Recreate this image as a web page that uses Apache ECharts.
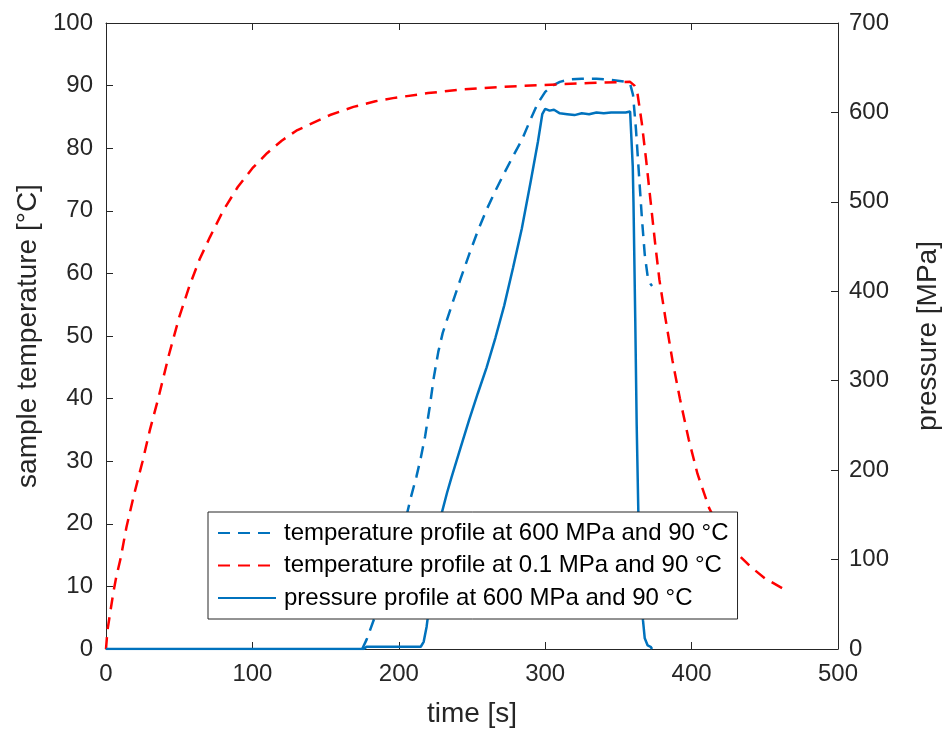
<!DOCTYPE html>
<html><head><meta charset="utf-8">
<script src="https://cdn.jsdelivr.net/npm/echarts@6/dist/echarts.min.js"></script>
<style>html,body{margin:0;padding:0;background:#fff}#c{width:942px;height:731px}</style>
</head><body><div id="c"></div>
<script>
// ---- data ----
const seriesNames = [
  'temperature profile at 600 MPa and 90 °C',
  'temperature profile at 0.1 MPa and 90 °C',
  'pressure profile at 600 MPa and 90 °C'
];
const xTitle = 'time [s]';
const yLeftTitle = 'sample temperature [°C]';
const yRightTitle = 'pressure [MPa]';

// temperature at 600 MPa (left axis)
const hpTime = [175,178,185,193,200,205,208,212,215,218,221,224,227,230,236,242,248,254,260,266,272,278,284,290,295,300,305,310,317,325,335,345,355,358,360,362,364,366,368,370,372,373];
const hpTemp = [0,1.5,6,11,17,21,24,27.5,30.5,34,38.5,43.5,47.5,50.5,54.8,59,63,66.8,70.2,73.2,76,78.7,81.3,84.6,87.2,89,90,90.6,91,91.1,91.1,90.9,90.6,90.3,88.5,83,76,69,63,59.5,58.3,58];

// temperature at 0.1 MPa (left axis)
const lpTime = [0,1,3,5,7,10,14,19,25,30,36,43,50,57,64,71,80,90,100,110,120,130,141,153,169,184,196,220,244,270,298,330,358,361,363,366,369,372,375,378,382,387,392,398,404,412,420,431,440,450,462];
const lpTemp = [0,3,6,9,11.5,14.5,19.5,24.5,30,35,40.3,47,53,58,62.3,65.8,70,73.8,76.8,79.2,81.2,82.8,84,85.3,86.6,87.5,88,88.8,89.4,89.8,90.1,90.4,90.6,90,88.8,84,78,71.5,65,59,53,46,40,33.5,28,22.5,18.8,15.3,13.2,11.3,9.7];

// pressure at 600 MPa (right axis)
const pTime = [0,176,178,195,215,217,219,221,223,226,229,233,236,242,248,254,260,266,272,278,284,290,295,298,300,303,306,310,315,320,325,330,335,340,345,350,355,358,359,359.8,360.3,361.5,362.5,364,365.5,366.8,368,370,372,373];
const pVal  = [0,0,2.5,2.5,2.5,8,25,50,80,120,150,175,192,224,256,286,315,348,384,426,470,522,567,598,604,602,603,599,598,597,599,598,600,599,600,600,600,601,600,540,500,370,250,120,70,32,12,4,2.5,0];

const xTicks = [0,100,200,300,400,500];
const yLeftTicks = [0,10,20,30,40,50,60,70,80,90,100];
const yRightTicks = [0,100,200,300,400,500,600,700];

// ---- chart ----
const zip = (a,b) => a.map((v,i)=>[v,b[i]]);
const FONT = 'Liberation Sans, Arial, Helvetica, sans-serif';
const AX = '#262626';
const BLUE = '#0072BD', RED = '#FF0000';

const chart = echarts.init(document.getElementById('c'), null, {renderer:'canvas'});
const axisCommon = {
  axisLine:{show:true, onZero:false, lineStyle:{color:AX, width:1}},
  axisTick:{show:true, inside:true, length:7, lineStyle:{color:AX, width:1}},
  splitLine:{show:false},
  axisLabel:{color:AX, fontSize:24, fontFamily:FONT},
  nameTextStyle:{color:AX, fontSize:28, fontFamily:FONT}
};
chart.setOption({
  animation:false,
  backgroundColor:'#fff',
  grid:{left:106, right:104, top:23, bottom:82, containLabel:false, outerBoundsMode:'none'},
  xAxis:[
    Object.assign({}, axisCommon, {
      type:'value', position:'bottom', min:xTicks[0], max:xTicks[xTicks.length-1], interval:100,
      name:xTitle, nameLocation:'middle', nameGap:51,
      axisLabel:Object.assign({}, axisCommon.axisLabel, {margin:13})
    }),
    Object.assign({}, axisCommon, {
      type:'value', position:'top', min:xTicks[0], max:xTicks[xTicks.length-1], interval:100,
      axisLabel:{show:false}
    })
  ],
  yAxis:[
    Object.assign({}, axisCommon, {
      type:'value', position:'left', min:yLeftTicks[0], max:yLeftTicks[yLeftTicks.length-1], interval:10,
      name:yLeftTitle, nameLocation:'middle', nameGap:57,
      axisLabel:Object.assign({}, axisCommon.axisLabel, {margin:13})
    }),
    Object.assign({}, axisCommon, {
      type:'value', position:'right', min:yRightTicks[0], max:yRightTicks[yRightTicks.length-1], interval:100,
      name:yRightTitle, nameLocation:'middle', nameGap:76,
      axisLabel:Object.assign({}, axisCommon.axisLabel, {margin:11})
    })
  ],
  legend:{
    show:true, orient:'vertical', left:208, top:512,
    data:seriesNames,
    backgroundColor:'#fff', borderColor:'#262626', borderWidth:1,
    padding:[9,9,9,9], itemGap:8.5, itemWidth:58, itemHeight:20,
    itemStyle:{color:'rgba(0,0,0,0)', borderColor:'rgba(0,0,0,0)', borderWidth:0, opacity:0},
    textStyle:{color:'#000', fontSize:24, fontFamily:FONT, padding:[0,0,0,3]},
    selectedMode:false
  },
  series:[
    {name:seriesNames[0], type:'line', xAxisIndex:0, yAxisIndex:0, data:zip(hpTime,hpTemp),
     symbol:'none', lineStyle:{color:BLUE, width:2.5, type:[12,8]}, itemStyle:{color:BLUE}, z:2},
    {name:seriesNames[1], type:'line', xAxisIndex:0, yAxisIndex:0, data:zip(lpTime,lpTemp),
     symbol:'none', lineStyle:{color:RED, width:2.5, type:[12,8]}, itemStyle:{color:RED}, z:2},
    {name:seriesNames[2], type:'line', xAxisIndex:0, yAxisIndex:1, data:zip(pTime,pVal),
     symbol:'none', lineStyle:{color:BLUE, width:2.5, type:'solid'}, itemStyle:{color:BLUE}, z:3}
  ]
});
</script></body></html>
